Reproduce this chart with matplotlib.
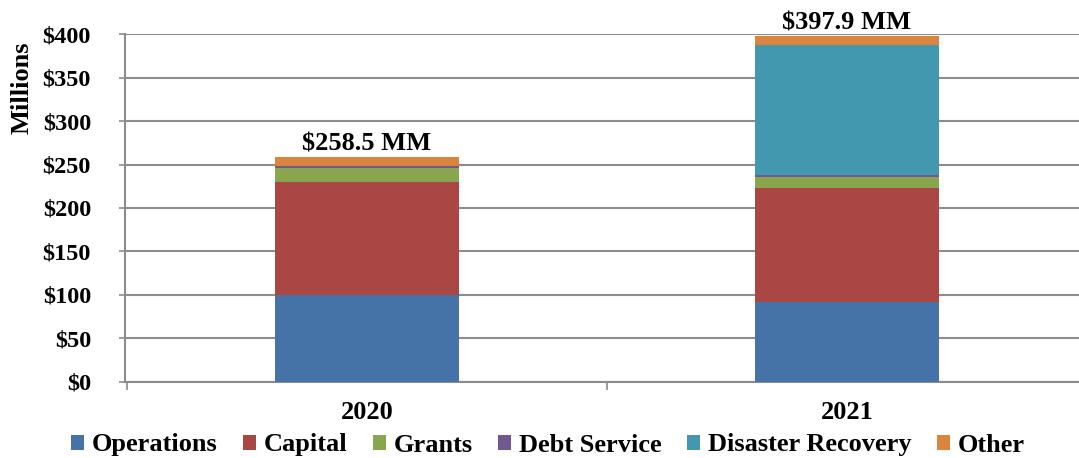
import matplotlib
matplotlib.use("Agg")
import matplotlib.pyplot as plt
from matplotlib.patches import Patch
import numpy as np

years = ["2020", "2021"]
categories = ["Operations", "Capital", "Grants", "Debt Service", "Disaster Recovery", "Other"]
operations = [99.7, 91.3]
capital = [129.9, 131.6]
grants = [16.9, 12.3]
debt_service = [2.3, 2.7]
disaster_recovery = [0.0, 149.8]
other = [9.7, 10.2]
totals = [258.5, 397.9]
total_labels = ["$258.5 MM", "$397.9 MM"]
yticks = [0, 50, 100, 150, 200, 250, 300, 350, 400]
ytick_labels = ["$0", "$50", "$100", "$150", "$200", "$250", "$300", "$350", "$400"]

colors = ["#4572A7", "#AA4643", "#89A54E", "#71588F", "#4198AF", "#DB843D"]
series = [operations, capital, grants, debt_service, disaster_recovery, other]

plt.rcParams["font.family"] = ["Liberation Serif", "DejaVu Serif"]
plt.rcParams["font.weight"] = "bold"

W, H = 1079, 458
fig = plt.figure(figsize=(W / 100, H / 100), dpi=100)
ax = fig.add_axes([125 / W, (H - 381.5) / H, (W - 125) / W, 347 / H])

x = np.arange(len(years))
bottom = np.zeros(len(years))
for vals, col in zip(series, colors):
    vals = np.array(vals)
    ax.bar(x, vals, width=0.385, bottom=bottom, color=col, edgecolor="none", zorder=3)
    bottom += vals

for xi, tot, lab in zip(x, totals, total_labels):
    ax.annotate(lab, (xi, tot), xytext=(0, 1.5), textcoords="offset points",
                ha="center", va="bottom", fontsize=19, fontweight="bold")

ax.set_xlim((125 - 367) / 480, (W - 367) / 480)
ax.set_ylim(0, 400)
ax.set_yticks(yticks)
ax.set_yticklabels(ytick_labels, fontsize=17.5, fontweight="bold")
ax.yaxis.grid(True, color="#8c8c8c", linewidth=1.5, zorder=0)
ax.set_axisbelow(True)

ax.set_xticks([-0.5, 0.5])
ax.set_xticklabels([])
ax.set_xticks(x, minor=True)
ax.set_xticklabels(years, minor=True, fontsize=19, fontweight="bold")
ax.tick_params(axis="x", which="minor", length=0, pad=14)
ax.tick_params(axis="x", which="major", length=5.5, color="#8c8c8c", width=1.2, direction="out")
ax.tick_params(axis="y", length=4.5, color="#8c8c8c", width=1.2, pad=20)

for side in ["top", "right"]:
    ax.spines[side].set_visible(False)
for side in ["left", "bottom"]:
    ax.spines[side].set_color("#8c8c8c")
    ax.spines[side].set_linewidth(1.5)

fig.text(22 / W, 1 - 88 / H, "Millions", rotation=90, ha="center", va="center",
         fontsize=19, fontweight="bold")

handles = [Patch(facecolor=c, edgecolor="none") for c in colors]
fig.legend(handles, categories, loc="center", bbox_to_anchor=(548 / W, 1 - 445 / H),
           ncol=6, frameon=False, handlelength=0.5, handleheight=0.5,
           handletextpad=0.3, columnspacing=0.95, borderpad=0,
           prop={"weight": "bold", "size": 19})

fig.savefig("out.png", dpi=100)
